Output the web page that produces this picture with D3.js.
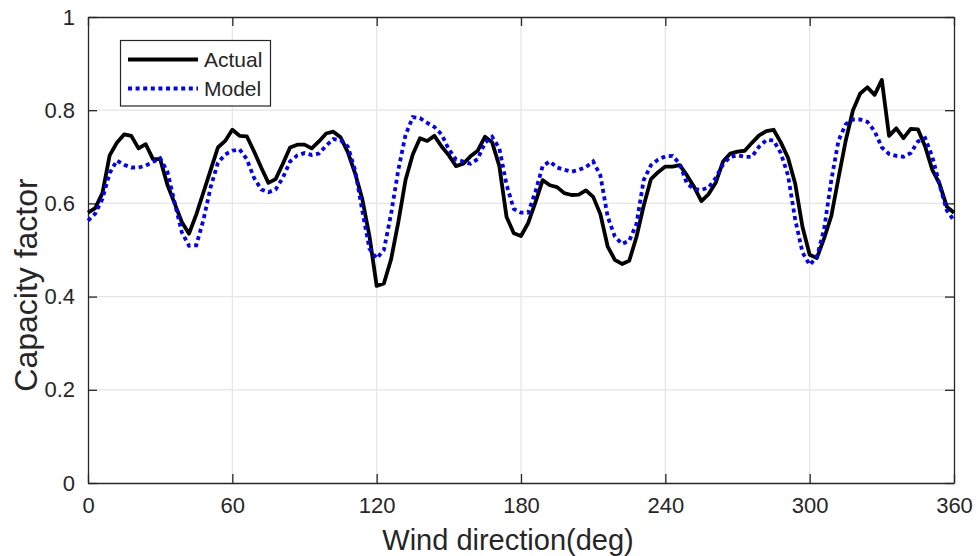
<!DOCTYPE html>
<html>
<head>
<meta charset="utf-8">
<script src="https://cdn.jsdelivr.net/npm/d3@7"></script>
<style>
  html, body { margin: 0; padding: 0; background: #ffffff; }
  svg { display: block; }
  text { font-family: "Liberation Sans", Arial, Helvetica, sans-serif; fill: #262626; }
</style>
</head>
<body>
<svg id="chart" width="976" height="556"></svg>
<script>
// Wind direction sampled every 3 degrees
const directions = d3.range(0, 361, 3);

// Measured capacity factor per direction bin
const actual = [
  0.580, 0.590, 0.622, 0.703, 0.730, 0.748, 0.745, 0.718, 0.727, 0.695,
  0.695, 0.640, 0.600, 0.560, 0.535, 0.576, 0.624, 0.672, 0.720, 0.734,
  0.758, 0.745, 0.744, 0.712, 0.677, 0.644, 0.652, 0.685, 0.720, 0.726,
  0.726, 0.718, 0.733, 0.750, 0.754, 0.742, 0.710, 0.665, 0.610, 0.530,
  0.423, 0.428, 0.480, 0.560, 0.650, 0.705, 0.740, 0.734, 0.745, 0.722,
  0.703, 0.680, 0.685, 0.701, 0.713, 0.743, 0.731, 0.680, 0.571, 0.536,
  0.530, 0.558, 0.602, 0.650, 0.639, 0.635, 0.622, 0.618, 0.619, 0.628,
  0.614, 0.577, 0.508, 0.479, 0.470, 0.477, 0.528, 0.595, 0.652, 0.667,
  0.679, 0.679, 0.682, 0.660, 0.635, 0.605, 0.620, 0.645, 0.690, 0.707,
  0.711, 0.713, 0.730, 0.746, 0.755, 0.758, 0.731, 0.698, 0.642, 0.550,
  0.490, 0.483, 0.525, 0.573, 0.655, 0.735, 0.800, 0.836, 0.849, 0.833,
  0.865, 0.745, 0.761, 0.740, 0.760, 0.759, 0.722, 0.672, 0.642, 0.593,
  0.580
];

// Modelled capacity factor per direction bin
const model = [
  0.563, 0.578, 0.610, 0.665, 0.692, 0.683, 0.677, 0.677, 0.681, 0.689,
  0.697, 0.668, 0.602, 0.538, 0.509, 0.510, 0.565, 0.635, 0.687, 0.705,
  0.713, 0.716, 0.695, 0.655, 0.630, 0.624, 0.630, 0.655, 0.690, 0.703,
  0.708, 0.704, 0.707, 0.724, 0.738, 0.736, 0.722, 0.672, 0.585, 0.503,
  0.482, 0.500, 0.578, 0.672, 0.747, 0.785, 0.783, 0.773, 0.764, 0.748,
  0.716, 0.694, 0.690, 0.685, 0.695, 0.730, 0.743, 0.718, 0.640, 0.588,
  0.580, 0.580, 0.625, 0.680, 0.690, 0.677, 0.672, 0.668, 0.672, 0.678,
  0.690, 0.660, 0.572, 0.529, 0.513, 0.520, 0.556, 0.650, 0.682, 0.694,
  0.701, 0.702, 0.685, 0.642, 0.631, 0.629, 0.634, 0.655, 0.684, 0.700,
  0.703, 0.700, 0.700, 0.722, 0.736, 0.735, 0.708, 0.660, 0.565, 0.495,
  0.468, 0.485, 0.545, 0.650, 0.735, 0.770, 0.780, 0.780, 0.775, 0.755,
  0.720, 0.706, 0.702, 0.700, 0.708, 0.733, 0.740, 0.700, 0.640, 0.585,
  0.563
];

const xTicks = [0, 60, 120, 180, 240, 300, 360];
const yTicks = [0, 0.2, 0.4, 0.6, 0.8, 1];
const seriesNames = ["Actual", "Model"];

const svg = d3.select("#chart");
const plot = { left: 88, right: 954, top: 17, bottom: 483 };
const axisColor = "#262626";
const tickLen = 9;

const x = d3.scaleLinear().domain([0, 360]).range([plot.left, plot.right]);
const y = d3.scaleLinear().domain([0, 1]).range([plot.bottom, plot.top]);

// grid
const grid = svg.append("g");
grid.selectAll("line.gx").data(xTicks.slice(1, -1)).join("line")
  .attr("x1", d => x(d)).attr("x2", d => x(d))
  .attr("y1", plot.top).attr("y2", plot.bottom)
  .attr("stroke", "#e5e5e5").attr("stroke-width", 1.2);
grid.selectAll("line.gy").data(yTicks.slice(1, -1)).join("line")
  .attr("y1", d => y(d)).attr("y2", d => y(d))
  .attr("x1", plot.left).attr("x2", plot.right)
  .attr("stroke", "#e5e5e5").attr("stroke-width", 1.2);

// axes with inward ticks on all four sides
const fmt = d => d === 0 ? "0" : d === 1 ? "1" : d3.format(".1f")(d);
const xAxisB = d3.axisBottom(x).tickValues(xTicks).tickSizeInner(-tickLen).tickSizeOuter(0).tickPadding(14);
const xAxisT = d3.axisTop(x).tickValues(xTicks).tickSizeInner(-tickLen).tickSizeOuter(0).tickFormat("");
const yAxisL = d3.axisLeft(y).tickValues(yTicks).tickSizeInner(-tickLen).tickSizeOuter(0).tickPadding(13).tickFormat(fmt);
const yAxisR = d3.axisRight(y).tickValues(yTicks).tickSizeInner(-tickLen).tickSizeOuter(0).tickFormat("");

function styleAxis(g) {
  g.select(".domain").attr("stroke", axisColor).attr("stroke-width", 1.3);
  g.selectAll(".tick line").attr("stroke", axisColor).attr("stroke-width", 1.3);
  g.selectAll(".tick text").attr("fill", axisColor)
    .style("font-family", '"Liberation Sans", Arial, Helvetica, sans-serif')
    .style("font-size", "22px");
}

svg.append("g").attr("transform", `translate(0,${plot.bottom})`).call(xAxisB).call(styleAxis);
svg.append("g").attr("transform", `translate(0,${plot.top})`).call(xAxisT).call(styleAxis);
svg.append("g").attr("transform", `translate(${plot.left},0)`).call(yAxisL).call(styleAxis);
svg.append("g").attr("transform", `translate(${plot.right},0)`).call(yAxisR).call(styleAxis);

// series
const pts = vals => directions.map((d, i) => [d, vals[i]]);
const line = d3.line().x(d => x(d[0])).y(d => y(d[1]));

svg.append("path").datum(pts(actual))
  .attr("d", line).attr("fill", "none")
  .attr("stroke", "#000000").attr("stroke-width", 3.8)
  .attr("stroke-linejoin", "round");

svg.append("path").datum(pts(model))
  .attr("d", line).attr("fill", "none")
  .attr("stroke", "#0000ff").attr("stroke-width", 3.8)
  .attr("stroke-dasharray", "4,3.6");

// axis labels
svg.append("text")
  .attr("x", 508).attr("y", 550)
  .attr("text-anchor", "middle")
  .style("font-size", "29px")
  .text("Wind direction(deg)");

svg.append("text")
  .attr("transform", "translate(37,285) rotate(-90)")
  .attr("text-anchor", "middle")
  .style("font-size", "32px")
  .text("Capacity factor");

// legend
const legend = svg.append("g");
legend.append("rect")
  .attr("x", 120.5).attr("y", 40.5).attr("width", 150).attr("height", 65.5)
  .attr("fill", "#ffffff").attr("stroke", axisColor).attr("stroke-width", 1.2);
const legendStyles = [
  { color: "#000000", dash: null },
  { color: "#0000ff", dash: "4,3.6" }
];
seriesNames.forEach((name, i) => {
  const ly = 59.5 + i * 29;
  legend.append("line")
    .attr("x1", 128).attr("x2", 198).attr("y1", ly).attr("y2", ly)
    .attr("stroke", legendStyles[i].color).attr("stroke-width", 3.8)
    .attr("stroke-dasharray", legendStyles[i].dash);
  legend.append("text")
    .attr("x", 204).attr("y", ly + 7.5)
    .style("font-size", "21px")
    .attr("fill", "#000000")
    .text(name);
});
</script>
</body>
</html>
